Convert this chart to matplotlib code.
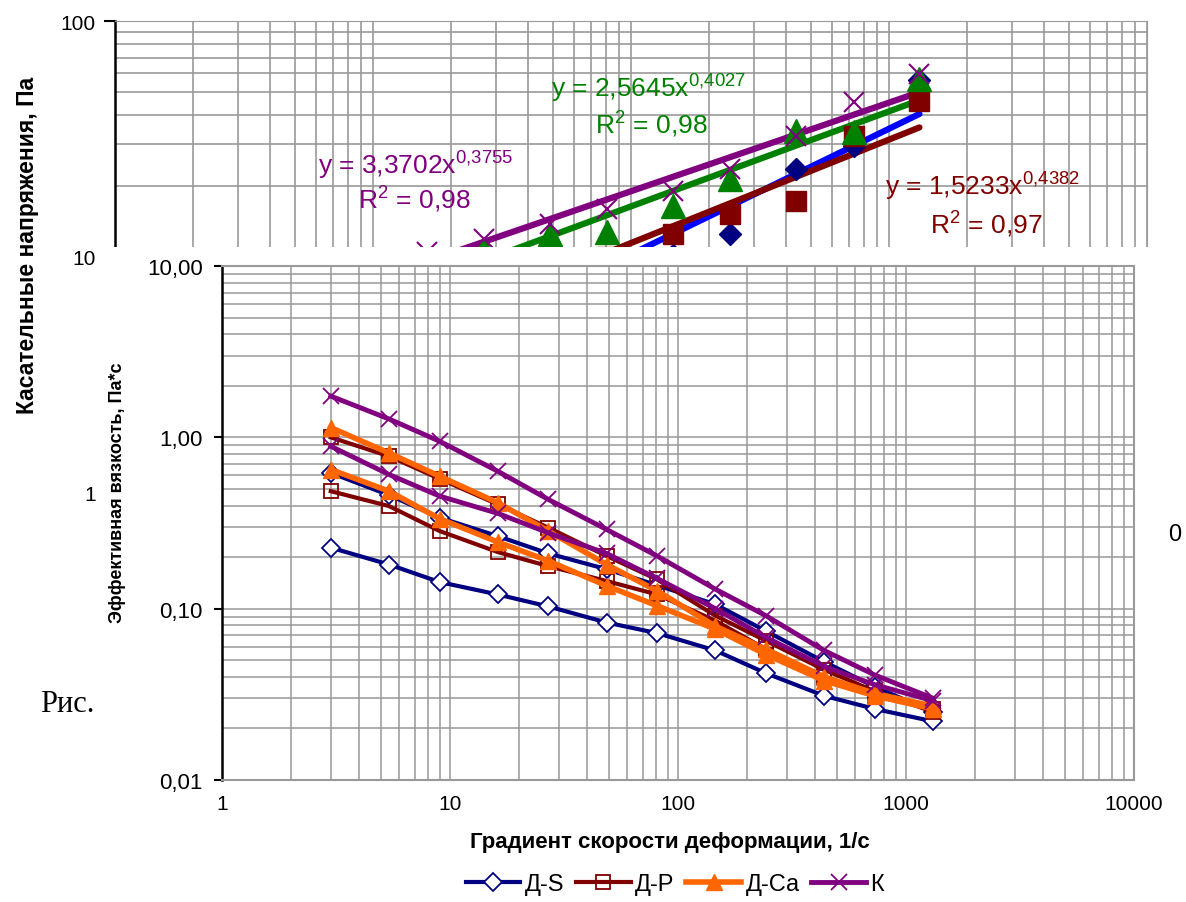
import numpy as np
import matplotlib
matplotlib.use('Agg')
import matplotlib.pyplot as plt
from matplotlib.patches import Rectangle
from matplotlib.ticker import LogLocator, FixedLocator, NullFormatter

plt.rcParams['font.family'] = ['Liberation Sans', 'DejaVu Sans']
plt.rcParams['mathtext.fontset'] = 'custom'
plt.rcParams['mathtext.rm'] = 'Liberation Sans'

# Shear rates, 1/s
rates = [3, 5.4, 9, 16.2, 27, 48.6, 81, 145.8, 243, 437.4, 729, 1312]

# Background chart: shear stress, Pa
tau_ds = [1.3, 1.9, 2.6, 3.5, 4.8, 6.5, 8.4, 10.2, 12.5, 23.6, 29.6, 56.0]
tau_dp = [2.5, 3.3, 4.2, 5.6, 7.2, 8.8, 10.0, 12.5, 15.2, 17.3, 32.7, 45.9]
tau_dca = [4.0, 5.5, 6.9, 8.6, 10.8, 12.5, 12.8, 16.4, 21.4, 34.2, 33.8, 56.8]
tau_k = [5.0, 6.4, 8.2, 10.5, 11.9, 13.8, 16.0, 19.1, 23.6, 32.7, 45.2, 59.6]

# Power trend lines (a, b) as printed on the chart
fit_ds = (0.886, 0.532)
fit_dp = (1.5233, 0.4382)
fit_dca = (2.5645, 0.4027)
fit_k = (3.3702, 0.3755)

# Foreground chart: effective viscosity, Pa*s
eta_ds_1 = [0.62, 0.46, 0.34, 0.265, 0.21, 0.17, 0.137, 0.106, 0.074, 0.049, 0.035, 0.025]
eta_ds_2 = [0.227, 0.181, 0.143, 0.121, 0.103, 0.083, 0.072, 0.057, 0.042, 0.031, 0.026, 0.022]
eta_dp_1 = [1.0, 0.776, 0.573, 0.406, 0.297, 0.203, 0.148, 0.091, 0.065, 0.044, 0.033, 0.025]
eta_dp_2 = [0.485, 0.397, 0.284, 0.214, 0.177, 0.145, 0.121, 0.085, 0.058, 0.040, 0.031, 0.026]
eta_dca_1 = [1.14, 0.81, 0.593, 0.415, 0.284, 0.181, 0.127, 0.079, 0.058, 0.040, 0.032, 0.027]
eta_dca_2 = [0.649, 0.485, 0.335, 0.245, 0.19, 0.136, 0.104, 0.076, 0.054, 0.038, 0.031, 0.026]
eta_k_1 = [1.74, 1.28, 0.949, 0.634, 0.434, 0.290, 0.203, 0.130, 0.091, 0.057, 0.041, 0.030]
eta_k_2 = [0.887, 0.607, 0.454, 0.36, 0.277, 0.21, 0.15, 0.10, 0.068, 0.046, 0.036, 0.029]

W, H = 1186, 903
def box(l, t, r, b):
    return [l / W, 1 - b / H, (r - l) / W, (b - t) / H]

navy = '#000080'
dred = '#800000'
orange = '#FF6600'
purple = '#800080'
green = '#008000'
blue = '#0000FF'
gridc = '#999999'

fig = plt.figure(figsize=(W / 100, H / 100), dpi=100)

# ---- background chart (shear stress) ----
ax1 = fig.add_axes(box(115, 22, 1147, 494), zorder=0)
ax1.set_xscale('log')
ax1.set_yscale('log')
ax1.set_xlim(1, 10000)
ax1.set_ylim(1, 100)
ax1.grid(True, which='both', color=gridc, lw=1.2)
ax1.set_axisbelow(True)
ax1.yaxis.set_major_locator(FixedLocator([1, 10, 100]))
ax1.set_yticklabels(['1', '10', '100'], fontsize=15)
ax1.yaxis.set_minor_formatter(NullFormatter())
ax1.xaxis.set_major_formatter(NullFormatter())
ax1.xaxis.set_minor_formatter(NullFormatter())
ax1.tick_params(axis='y', which='major', length=8, width=1.5, pad=6)
ax1.tick_params(axis='y', which='minor', length=0)
ax1.tick_params(axis='x', which='both', length=0)
for s in ['top', 'right', 'bottom']:
    ax1.spines[s].set_color(gridc)
ax1.spines['left'].set_linewidth(1.8)

xr = np.array([rates[0], rates[-1]])
for fit, c in [(fit_ds, blue), (fit_dp, dred), (fit_dca, green), (fit_k, purple)]:
    ax1.plot(xr, fit[0] * xr ** fit[1], color=c, lw=4.5, solid_capstyle='round')
ax1.plot(rates, tau_ds, 'D', color=navy, ms=11, ls='none')
ax1.plot(rates, tau_dp, 's', color=dred, ms=14, ls='none')
ax1.plot(rates, tau_dca, '^', color=green, ms=17, ls='none')
ax1.plot(rates, tau_k, 'x', color=purple, ms=15, mew=1.5, ls='none')

eq = dict(fontsize=19, ha='left', va='center')
fig.text(318 / W, 1 - 165 / H, r'y = 3,3702x$^{\mathregular{0{,}3755}}$', color=purple, **eq)
fig.text(358 / W, 1 - 199 / H, r'R$^{\mathregular{2}}$ = 0,98', color=purple, **eq)
fig.text(551 / W, 1 - 88 / H, r'y = 2,5645x$^{\mathregular{0{,}4027}}$', color=green, **eq)
fig.text(595 / W, 1 - 124 / H, r'R$^{\mathregular{2}}$ = 0,98', color=green, **eq)
fig.text(885 / W, 1 - 186 / H, r'y = 1,5233x$^{\mathregular{0{,}4382}}$', color=dred, **eq)
fig.text(930 / W, 1 - 224 / H, r'R$^{\mathregular{2}}$ = 0,97', color=dred, **eq)
fig.text(28 / W, 1 - 245 / H, 'Касательные напряжения, Па', rotation=90,
         fontsize=16.5, fontweight='bold', ha='center', va='center')

# white chart area of the second chart pasted over the first
fig.add_artist(Rectangle((100 / W, 0), 1060 / W, 1 - 248 / H, transform=fig.transFigure,
                         facecolor='white', edgecolor='none', zorder=1))

# ---- foreground chart (effective viscosity) ----
ax2 = fig.add_axes(box(222, 267, 1134, 781), zorder=2)
ax2.set_xscale('log')
ax2.set_yscale('log')
ax2.set_xlim(1, 10000)
ax2.set_ylim(0.01, 10)
ax2.grid(True, which='both', color=gridc, lw=1.1)
ax2.set_axisbelow(True)
ax2.xaxis.set_major_locator(FixedLocator([1, 10, 100, 1000, 10000]))
ax2.set_xticklabels(['1', '10', '100', '1000', '10000'], fontsize=15)
ax2.yaxis.set_major_locator(FixedLocator([0.01, 0.1, 1, 10]))
ax2.set_yticklabels(['0,01', '0,10', '1,00', '10,00'], fontsize=16)
ax2.xaxis.set_minor_locator(LogLocator(base=10, subs=np.arange(2, 10)))
ax2.yaxis.set_minor_locator(LogLocator(base=10, subs=np.arange(2, 10)))
ax2.xaxis.set_minor_formatter(NullFormatter())
ax2.yaxis.set_minor_formatter(NullFormatter())
ax2.tick_params(which='major', length=6, width=1.5, pad=8)
ax2.tick_params(which='minor', length=0)
ax2.tick_params(axis='x', which='major', length=0, pad=10)
for s in ['top', 'right']:
    ax2.spines[s].set_color(gridc)
    ax2.spines[s].set_linewidth(1.5)
ax2.spines['left'].set_linewidth(1.8)
ax2.spines['bottom'].set_color(gridc)
ax2.spines['bottom'].set_linewidth(1.5)

h_ds, = ax2.plot(rates, eta_ds_1, color=navy, lw=3, marker='D', ms=9, mfc='white', mec=navy, mew=1.3)
ax2.plot(rates, eta_ds_2, color=navy, lw=3, marker='D', ms=9, mfc='white', mec=navy, mew=1.3)
h_dp, = ax2.plot(rates, eta_dp_1, color=dred, lw=3, marker='s', ms=10, mfc='none', mec=dred, mew=1.3)
ax2.plot(rates, eta_dp_2, color=dred, lw=3, marker='s', ms=10, mfc='none', mec=dred, mew=1.3)
h_dca, = ax2.plot(rates, eta_dca_1, color=orange, lw=4, marker='^', ms=12, mfc=orange, mec=orange)
ax2.plot(rates, eta_dca_2, color=orange, lw=4, marker='^', ms=12, mfc=orange, mec=orange)
h_k, = ax2.plot(rates, eta_k_1, color=purple, lw=3.5, marker='x', ms=11, mew=1.3)
ax2.plot(rates, eta_k_2, color=purple, lw=3.5, marker='x', ms=11, mew=1.3)

fig.text(118 / W, 1 - 493 / H, 'Эффективная вязкость, Па*с', rotation=90,
         fontsize=13, fontweight='bold', ha='center', va='center',
         family=['Liberation Sans Narrow', 'Liberation Sans', 'DejaVu Sans'])
fig.text(670 / W, 1 - 843 / H, 'Градиент скорости деформации, 1/с',
         fontsize=16, fontweight='bold', ha='center', va='center')

fig.legend([h_ds, h_dp, h_dca, h_k], ['Д-S', 'Д-Р', 'Д-Са', 'К'],
           loc='center', bbox_to_anchor=(675 / W, 1 - 885 / H), ncol=4, frameon=False,
           fontsize=17, handlelength=2.3, handletextpad=0.2, columnspacing=0.5)

# stray text of the surrounding document
fig.text(40 / W, 1 - 705 / H, 'Рис.', fontsize=22, family=['Liberation Serif', 'DejaVu Serif'],
         ha='left', va='center')
fig.text(1175 / W, 1 - 535 / H, '0', fontsize=17, ha='center', va='center')

fig.savefig('out.png', dpi=100)
